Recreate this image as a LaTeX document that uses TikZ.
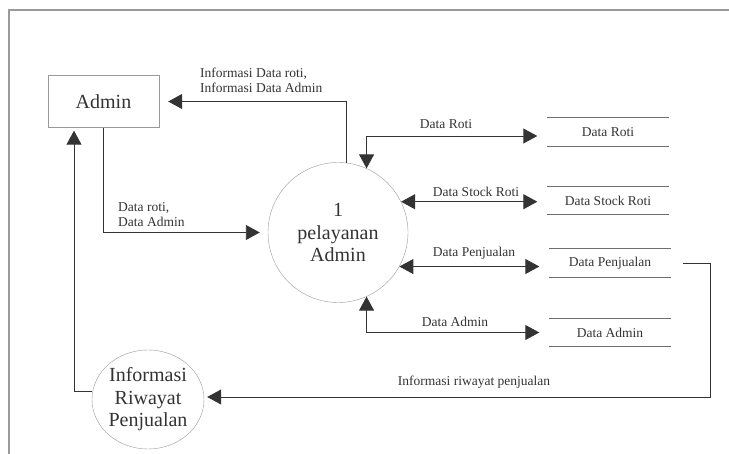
\documentclass[tikz,border=0pt]{standalone}
\usepackage{fontspec}
\setmainfont{Liberation Serif}
\usetikzlibrary{arrows.meta,shapes.geometric}
\definecolor{ink}{HTML}{333333}
\definecolor{edge}{HTML}{9A9A9A}
\definecolor{rule}{HTML}{6E6E6E}
\begin{document}
\begin{tikzpicture}[x=1pt,y=-1pt,>={Triangle[length=14pt,width=15pt]},
	flow/.style={draw=ink,line width=0.9pt},
	lbl/.style={text=ink,font=\fontsize{13.5}{15}\selectfont,inner sep=0pt},
	big/.style={text=ink,font=\fontsize{20}{22.5}\selectfont,align=center},
	store/.style={lbl,minimum width=121pt,minimum height=28pt}]
	\useasboundingbox (0,0) rectangle (729,454);
	\draw[edge,line width=1.2pt](9,454)--(9,10)--(729,10);
	% entitas dan proses
	\node[big,draw=edge,minimum width=111pt,minimum height=52pt] (admin) at (103.5,101.5) {Admin};
	\node[big,draw=edge,circle,minimum size=140pt,inner sep=0pt] (proc) at (338,232.5) {1\\pelayanan\\Admin};
	\node[big,draw=edge,ellipse,minimum width=112pt,minimum height=99pt,inner sep=0pt] (info) at (148,399.5) {Informasi\\Riwayat\\Penjualan};
	% data store
	\node[store] (s1) at (608,132) {Data Roti};
	\node[store] (s2) at (608,200.5) {Data Stock Roti};
	\node[store] (s3) at (610,263) {Data Penjualan};
	\node[store] (s4) at (610,332.5) {Data Admin};
	\foreach \s in {s1,s2,s3,s4}
		\draw[rule,line width=1pt](\s.north west)--(\s.north east) (\s.south west)--(\s.south east);
	% aliran data
	\draw[flow,->,shorten >=9pt](proc.83) |- (admin.east);
	\draw[flow,->,shorten >=8pt](admin.south) |- (proc.west);
	\draw[flow,<->,shorten >=10pt](proc.66) |- ([yshift=-4pt]s1.west);
	\draw[flow,<->,shorten >=10pt](proc.26) -- (proc.26 -| s2.west);
	\draw[flow,<->,shorten >=10pt](proc.-29) -- (proc.-29 -| s3.west);
	\draw[flow,<->,shorten >=10pt](proc.-66) |- (s4.west);
	\coordinate (turn) at (710,397);
	\draw[flow,->,shorten <=12pt,shorten >=3pt](s3.east) -| (turn) -- (turn -| info.east);
	\draw[flow,->,shorten >=3pt](info.172) -| ([xshift=-29.5pt]admin.south);
	% label
	\node[lbl,align=left,anchor=west] (linfo) at (200,80.5) {Informasi Data roti,\\Informasi Data Admin};
	\node[lbl,align=left,anchor=west] (lroti) at (118,214.5) {Data roti,\\Data Admin};
	\node[lbl] (l1) at (446,124) {Data Roti};
	\node[lbl] (l2) at (476,192) {Data Stock Roti};
	\node[lbl] (l3) at (474,253) {Data Penjualan};
	\node[lbl] (l4) at (455,322) {Data Admin};
	\node[lbl] (l5) at (474,382) {Informasi riwayat penjualan};
\end{tikzpicture}
\end{document}
